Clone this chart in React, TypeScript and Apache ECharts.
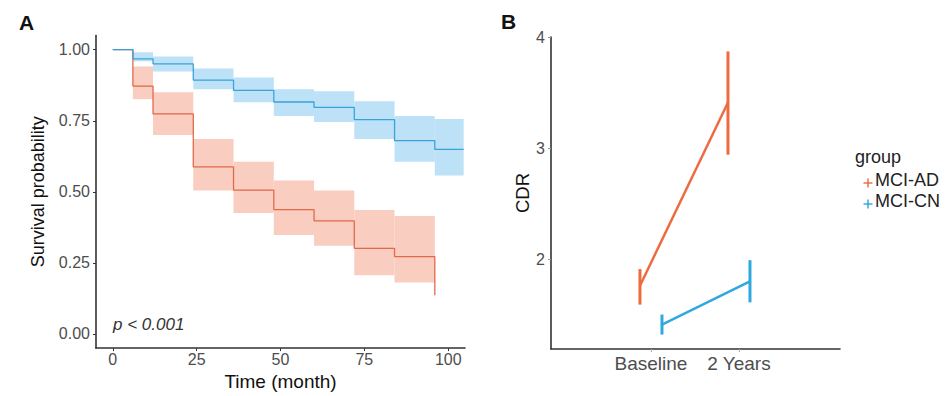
import React, { useEffect, useRef } from 'react';
import * as echarts from 'echarts';

// ---------- Panel A: Kaplan-Meier data ----------
const TIME_TICKS = [0, 25, 50, 75, 100];
const SURV_TICKS = [0, 0.25, 0.5, 0.75, 1];

const AD_TIMES = [0, 6, 12, 24, 36, 48, 60, 72, 84, 96];
const AD_SURV = [1, 0.872, 0.774, 0.588, 0.506, 0.437, 0.398, 0.301, 0.272, 0.136];
const AD_LOWER = [1, 0.826, 0.7, 0.505, 0.425, 0.348, 0.31, 0.206, 0.181, 0.136];
const AD_UPPER = [1, 0.941, 0.85, 0.686, 0.606, 0.54, 0.505, 0.436, 0.415, 0.136];

const CN_TIMES = [0, 6, 12, 24, 36, 48, 60, 72, 84, 96, 104.6];
const CN_SURV = [1, 0.968, 0.95, 0.893, 0.857, 0.816, 0.797, 0.754, 0.68, 0.649, 0.649];
const CN_LOWER = [1, 0.959, 0.923, 0.861, 0.815, 0.767, 0.746, 0.686, 0.606, 0.557, 0.557];
const CN_UPPER = [1, 0.991, 0.976, 0.934, 0.902, 0.861, 0.854, 0.819, 0.767, 0.756, 0.756];

// ---------- Panel B: CDR data ----------
const VISITS = ['Baseline', '2 Years'];
const GROUPS = ['MCI-AD', 'MCI-CN'];
const CDR_TICKS = [2, 3, 4];
const AD_CDR_MEAN = [1.76, 3.41];
const AD_CDR_LO = [1.59, 2.94];
const AD_CDR_HI = [1.91, 3.87];
const CN_CDR_MEAN = [1.41, 1.8];
const CN_CDR_LO = [1.32, 1.61];
const CN_CDR_HI = [1.5, 1.99];

// ---------- styles ----------
const FONT = "'Liberation Sans', Arial, Helvetica, sans-serif";
const AD_LINE = '#E2694A';
const AD_BAND = '#F9CDBF';
const CN_LINE = '#3BA2D8';
const CN_BAND = '#BDE2F7';
const AD_B = '#EE6B42';
const CN_B = '#2EA8DE';
const AXIS = '#333333';
const TICK_TXT = '#4D4D4D';
const DODGE = 0.125;

function bandData(times: number[], lo: number[], hi: number[]) {
  const out: number[][] = [];
  for (let i = 0; i < times.length - 1; i++) {
    if (hi[i] - lo[i] <= 0) continue;
    out.push([times[i], times[i + 1], lo[i], hi[i]]);
  }
  return out;
}

function zip(xs: number[], ys: number[]) {
  return xs.map((x, i) => [x, ys[i]]);
}

function bandSeries(name: string, data: number[][], color: string) {
  return {
    type: 'custom',
    name,
    xAxisIndex: 0,
    yAxisIndex: 0,
    silent: true,
    encode: { x: [0, 1], y: [2, 3] },
    data,
    renderItem: (_p: any, api: any) => {
      const a = api.coord([api.value(0), api.value(3)]);
      const b = api.coord([api.value(1), api.value(2)]);
      return {
        type: 'rect',
        shape: { x: a[0], y: a[1], width: b[0] - a[0], height: b[1] - a[1] },
        style: { fill: color },
      };
    },
    z: 1,
  };
}

function errSeries(name: string, xs: number[], lo: number[], hi: number[], color: string) {
  return {
    type: 'custom',
    name,
    xAxisIndex: 1,
    yAxisIndex: 1,
    silent: true,
    encode: { x: 0, y: [1, 2] },
    data: xs.map((x, i) => [x, lo[i], hi[i]]),
    renderItem: (_p: any, api: any) => {
      const a = api.coord([api.value(0), api.value(1)]);
      const b = api.coord([api.value(0), api.value(2)]);
      return {
        type: 'line',
        shape: { x1: a[0], y1: a[1], x2: b[0], y2: b[1] },
        style: { stroke: color, lineWidth: 3 },
      };
    },
    z: 3,
  };
}

const adX = VISITS.map((_, i) => i + 1 - DODGE);
const cnX = VISITS.map((_, i) => i + 1 + DODGE);

const axisLine = { show: true, onZero: false, lineStyle: { color: AXIS, width: 1.6 } };

const option: any = {
  animation: false,
  backgroundColor: '#ffffff',
  textStyle: { fontFamily: FONT },
  title: [
    { text: 'A', left: 14, top: 7, textStyle: { fontSize: 21, fontWeight: 'bold', color: '#111', fontFamily: FONT } },
    { text: 'B', left: 496, top: 6, textStyle: { fontSize: 21, fontWeight: 'bold', color: '#111', fontFamily: FONT } },
  ],
  grid: [
    { left: 96, top: 35.5, width: 369, height: 315.5 },
    { left: 551, top: 37, width: 289, height: 312 },
  ],
  xAxis: [
    {
      type: 'value', gridIndex: 0, min: -5, max: 105,
      name: 'Time (month)', nameLocation: 'middle', nameGap: 20,
      nameTextStyle: { fontSize: 19, color: '#111', fontFamily: FONT },
      axisLine,
      axisTick: { show: true, length: 3, customValues: TIME_TICKS, lineStyle: { color: AXIS } },
      axisLabel: { customValues: TIME_TICKS, fontSize: 16, color: TICK_TXT, margin: 3, fontFamily: FONT },
      splitLine: { show: false },
    },
    {
      type: 'value', gridIndex: 1, min: -0.136, max: 3.148,
      axisLine,
      axisTick: { show: true, length: 3, customValues: [1, 2], lineStyle: { color: '#aaa' } },
      axisLabel: {
        customValues: [1, 2], fontSize: 19, color: TICK_TXT, margin: 5, fontFamily: FONT,
        formatter: (v: number) => VISITS[Math.round(v) - 1] ?? '',
      },
      splitLine: { show: false },
    },
  ],
  yAxis: [
    {
      type: 'value', gridIndex: 0, min: -0.05, max: 1.05,
      name: 'Survival probability', nameLocation: 'middle', nameGap: 49,
      nameTextStyle: { fontSize: 18, color: '#111', fontFamily: FONT },
      axisLine,
      axisTick: { show: true, length: 3, customValues: SURV_TICKS, lineStyle: { color: AXIS } },
      axisLabel: {
        customValues: SURV_TICKS, fontSize: 16, color: TICK_TXT, margin: 6, fontFamily: FONT,
        formatter: (v: number) => v.toFixed(2),
      },
      splitLine: { show: false },
    },
    {
      type: 'value', gridIndex: 1, min: 1.19, max: 4.0,
      name: 'CDR', nameLocation: 'middle', nameGap: 19,
      nameTextStyle: { fontSize: 18.5, color: '#111', fontFamily: FONT },
      axisLine,
      axisTick: { show: true, length: 3, customValues: CDR_TICKS, lineStyle: { color: '#999' } },
      axisLabel: { customValues: CDR_TICKS, fontSize: 16, color: TICK_TXT, margin: 6, fontFamily: FONT },
      splitLine: { show: false },
    },
  ],
  series: [
    bandSeries('AD band', bandData(AD_TIMES, AD_LOWER, AD_UPPER), AD_BAND),
    bandSeries('CN band', bandData(CN_TIMES, CN_LOWER, CN_UPPER), CN_BAND),
    {
      type: 'line', name: 'AD survival', xAxisIndex: 0, yAxisIndex: 0, step: 'end',
      showSymbol: false, silent: true, data: zip(AD_TIMES, AD_SURV),
      lineStyle: { color: AD_LINE, width: 1.3 }, itemStyle: { color: AD_LINE }, z: 2,
    },
    {
      type: 'line', name: 'CN survival', xAxisIndex: 0, yAxisIndex: 0, step: 'end',
      showSymbol: false, silent: true, data: zip(CN_TIMES, CN_SURV),
      lineStyle: { color: CN_LINE, width: 1.3 }, itemStyle: { color: CN_LINE }, z: 2,
    },
    {
      type: 'line', name: GROUPS[0], xAxisIndex: 1, yAxisIndex: 1,
      showSymbol: false, silent: true, data: zip(adX, AD_CDR_MEAN),
      lineStyle: { color: AD_B, width: 2.5 }, itemStyle: { color: AD_B }, z: 3,
    },
    {
      type: 'line', name: GROUPS[1], xAxisIndex: 1, yAxisIndex: 1,
      showSymbol: false, silent: true, data: zip(cnX, CN_CDR_MEAN),
      lineStyle: { color: CN_B, width: 2.5 }, itemStyle: { color: CN_B }, z: 3,
    },
    errSeries('AD err', adX, AD_CDR_LO, AD_CDR_HI, AD_B),
    errSeries('CN err', cnX, CN_CDR_LO, CN_CDR_HI, CN_B),
  ],
  graphic: [
    {
      type: 'text', left: 113, top: 316,
      style: { text: 'p < 0.001', font: `italic 17px ${FONT}`, fill: '#333' },
    },
    {
      type: 'text', left: 855, top: 148,
      style: { text: 'group', font: `18px ${FONT}`, fill: '#222' },
    },
    {
      type: 'group', left: 861, top: 176,
      children: [
        { type: 'line', shape: { x1: 0, y1: 4.5, x2: 9, y2: 4.5 }, style: { stroke: AD_B, lineWidth: 1.8, opacity: 0.8 } },
        { type: 'line', shape: { x1: 4.5, y1: 0, x2: 4.5, y2: 9 }, style: { stroke: AD_B, lineWidth: 1.8, opacity: 0.8 } },
      ],
    },
    {
      type: 'text', left: 875, top: 171,
      style: { text: GROUPS[0], font: `18px ${FONT}`, fill: '#222' },
    },
    {
      type: 'group', left: 861, top: 197,
      children: [
        { type: 'line', shape: { x1: 0, y1: 4.5, x2: 9, y2: 4.5 }, style: { stroke: CN_B, lineWidth: 1.8, opacity: 0.8 } },
        { type: 'line', shape: { x1: 4.5, y1: 0, x2: 4.5, y2: 9 }, style: { stroke: CN_B, lineWidth: 1.8, opacity: 0.8 } },
      ],
    },
    {
      type: 'text', left: 875, top: 192,
      style: { text: GROUPS[1], font: `18px ${FONT}`, fill: '#222' },
    },
  ],
};

export default function App() {
  const ref = useRef<HTMLDivElement>(null);
  useEffect(() => {
    if (!ref.current) return;
    const chart = echarts.init(ref.current, null, { renderer: 'svg' });
    chart.setOption(option);
    return () => {
      chart.dispose();
    };
  }, []);
  return (
    <div
      ref={ref}
      style={{ position: 'fixed', left: 0, top: 0, width: 945, height: 396, background: '#fff' }}
    />
  );
}
